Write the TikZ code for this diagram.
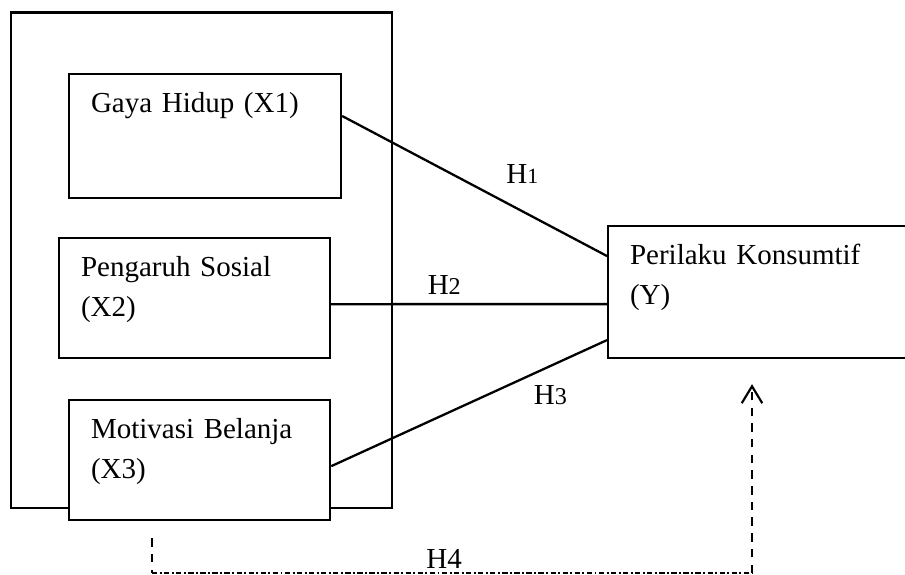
\documentclass[tikz,border=0pt]{standalone}
\usepackage{fontspec}
\setmainfont{Liberation Serif}
\usetikzlibrary{arrows.meta,positioning}

\begin{document}
\begin{tikzpicture}[
  x=0.414pt, y=-0.414pt,
  every node/.style={font=\fontsize{12}{16.6}\selectfont},
  varbox/.style 2 args={draw, line width=0.9pt, fill=white, anchor=north west,
    align=left, inner xsep=9.1pt, inner ysep=0pt, text height=15.7pt,
    text width=#1, text depth=#2},
  link/.style={line width=0.95pt},
  hyp/.style={inner sep=0pt},
  vdash/.style={line width=0.9pt, dash pattern=on 3.5pt off 3pt},
  ddash/.style={line width=0.9pt, dash pattern=on 2.2pt off 1pt on 0.8pt off 1pt}
]
  \useasboundingbox (0,0) rectangle (905,574);

  % frame round the independent variables
  \draw[line width=0.9pt] (11,12.5) rectangle (392,508);

  \node[varbox={94.4pt}{35.6pt}] (x1) at (68,73) {Gaya Hidup (X1)};
  \node[varbox={94pt}{34pt}] (x2) at (58,237) {Pengaruh Sosial\\(X2)};
  \node[varbox={89.9pt}{34pt}] (x3) at (68,399) {Motivasi Belanja\\(X3)};
  \node[varbox={107.2pt}{38.9pt}] (y) at (607,225) {Perilaku Konsumtif\\(Y)};

  \draw[link] ([yshift=8.3pt]x1.east) -- node[hyp, pos=0.68, above=10.8pt] {H{\fontsize{9}{9}\selectfont 1}} ([yshift=14.9pt]y.west);
  \draw[link] ([yshift=-2.5pt]x2.east) -- node[hyp, pos=0.41, above=3.7pt] {H{\fontsize{10}{10}\selectfont 2}} ([yshift=-5pt]y.west);
  \draw[link] ([yshift=-2.5pt]x3.east) -- node[hyp, pos=0.795, below=7.5pt] {H{\fontsize{10}{10}\selectfont 3}} ([yshift=-19.9pt]y.west);

  % simultaneous path
  \coordinate (d1) at (152,573);
  \coordinate (d2) at (752,573);
  \draw[vdash, shorten <=7pt] (x3.south -| d1) -- (d1);
  \draw[ddash] (d1) -- node[hyp, pos=0.487, above=1.5pt] {H4} (d2);
  \draw[vdash, shorten >=10.4pt, -{Straight Barb[length=7pt, width=8.5pt]}] (d2) -- (d2 |- y.south);
\end{tikzpicture}
\end{document}
